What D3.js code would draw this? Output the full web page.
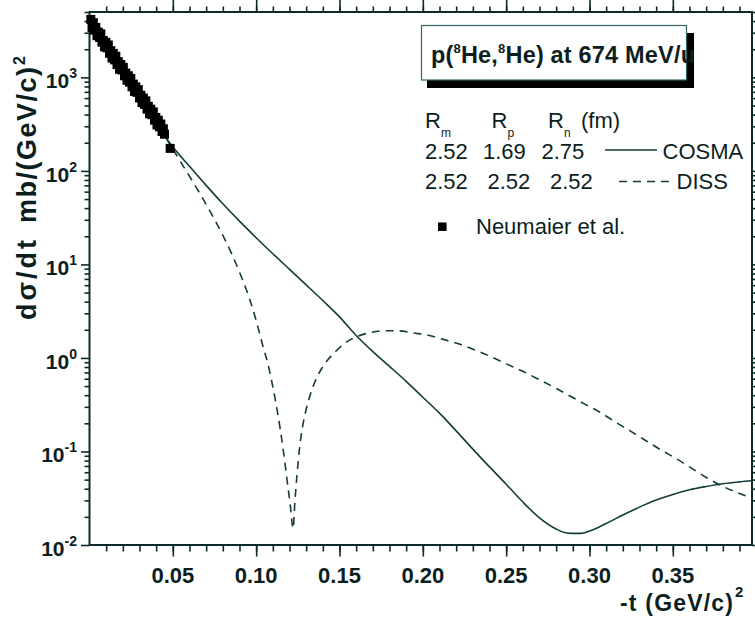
<!DOCTYPE html>
<html>
<head>
<meta charset="utf-8">
<script src="https://cdn.jsdelivr.net/npm/d3@7"></script>
<style>
  html, body { margin: 0; padding: 0; background: #ffffff; }
  svg { display: block; font-family: "Liberation Sans", Arial, Helvetica, sans-serif; }
</style>
</head>
<body>
<svg id="chart" width="755" height="625"></svg>
<script>
// p(8He,8He) elastic scattering at 674 MeV/u: dσ/dt versus -t

// COSMA calculation (solid line)
const cosmaT = [0, 0.01, 0.02, 0.03, 0.04, 0.0484, 0.06, 0.07, 0.08, 0.09,
  0.10, 0.11, 0.12, 0.13, 0.14, 0.15, 0.16, 0.17, 0.18, 0.19,
  0.20, 0.21, 0.22, 0.23, 0.24, 0.25, 0.26, 0.27, 0.28, 0.285,
  0.29, 0.295, 0.30, 0.31, 0.32, 0.33, 0.34, 0.35, 0.36, 0.37,
  0.38, 0.39, 0.3975];
const cosmaSigma = [4070, 2040, 1120, 617, 331, 196, 112, 70.0, 44.5, 29.0,
  19.3, 13.0, 8.87, 6.05, 4.11, 2.75, 1.74, 1.17, 0.813, 0.562,
  0.380, 0.257, 0.166, 0.106, 0.0684, 0.0447, 0.0288, 0.0195, 0.0148, 0.0136,
  0.0133, 0.0133, 0.0141, 0.0170, 0.0209, 0.0254, 0.0302, 0.0347, 0.0389, 0.0422,
  0.0452, 0.0473, 0.0486];

// DISS calculation (dashed line)
const dissT = [0, 0.01, 0.02, 0.03, 0.04, 0.0484, 0.0554, 0.0623, 0.0683, 0.0743,
  0.0803, 0.0854, 0.0904, 0.0953, 0.1000, 0.1040, 0.1070, 0.1100, 0.1130, 0.1160,
  0.1185, 0.1205, 0.1222, 0.1232, 0.1245, 0.1260, 0.1280, 0.1300, 0.1325, 0.1355,
  0.1394, 0.1430, 0.1474, 0.1520, 0.1574, 0.1664, 0.1763, 0.1853, 0.1943, 0.2033,
  0.2123, 0.2224, 0.2314, 0.2404, 0.2494, 0.2594, 0.2684, 0.2774, 0.2873, 0.2963,
  0.3064, 0.3154, 0.3244, 0.3334, 0.3424, 0.3524, 0.3614, 0.3704, 0.3803, 0.3904,
  0.3975];
const dissSigma = [4070, 2040, 1120, 617, 331, 190, 119, 75.0, 49.5, 32.0,
  20.0, 12.9, 7.94, 4.68, 2.51, 1.35, 0.871, 0.490, 0.251, 0.112,
  0.0501, 0.0263, 0.0150, 0.0282, 0.0562, 0.107, 0.191, 0.282, 0.407, 0.569,
  0.776, 0.955, 1.16, 1.38, 1.60, 1.83, 1.95, 1.95, 1.85, 1.75,
  1.58, 1.40, 1.21, 1.04, 0.873, 0.728, 0.604, 0.500, 0.401, 0.327,
  0.262, 0.207, 0.166, 0.132, 0.105, 0.0830, 0.0659, 0.0524, 0.0420, 0.0353,
  0.0318];

// Neumaier et al. measurement
const neumaierT = [0.0008, 0.0015, 0.0023, 0.0030, 0.0038, 0.0045, 0.0053, 0.0060, 0.0068, 0.0075,
  0.0083, 0.0090, 0.0098, 0.0105, 0.0113, 0.0120, 0.0128, 0.0135, 0.0143, 0.0150,
  0.0158, 0.0165, 0.0173, 0.0180, 0.0188, 0.0195, 0.0203, 0.0210, 0.0218, 0.0225,
  0.0233, 0.0240, 0.0248, 0.0255, 0.0263, 0.0270, 0.0278, 0.0285, 0.0293, 0.0300,
  0.0308, 0.0315, 0.0323, 0.0330, 0.0338, 0.0345, 0.0353, 0.0360, 0.0368, 0.0375,
  0.0383, 0.0390, 0.0398, 0.0405, 0.0413, 0.0420, 0.0428, 0.0435, 0.0443, 0.0450,
  0.0484];
const neumaierSigma = [4170, 3430, 3840, 3200, 3420, 2790, 3050, 2670, 2920, 2380,
  2480, 2120, 2370, 2070, 2220, 1810, 1930, 1610, 1800, 1540,
  1680, 1370, 1470, 1220, 1370, 1200, 1280, 1040, 1110, 931,
  1040, 889, 973, 793, 847, 708, 791, 692, 740, 603,
  644, 537, 601, 514, 561, 458, 490, 408, 457, 399,
  427, 348, 372, 310, 348, 296, 317, 264, 282, 247,
  174];

// axis ticks
const xMajorTicks = [0.05, 0.10, 0.15, 0.20, 0.25, 0.30, 0.35];
const xTickLabels = ["0.05", "0.10", "0.15", "0.20", "0.25", "0.30", "0.35"];
const xMinorTicks = d3.range(1, 40).map(i => i / 100);
const yDecadeExponents = [-2, -1, 0, 1, 2, 3];
const yTickLabels = ["-2", "-1", "0", "1", "2", "3"];

// legend content
const radiusHeaders = ["m", "p", "n"];
const cosmaRadii = ["2.52", "1.69", "2.75"];
const dissRadii = ["2.52", "2.52", "2.52"];

const ink = "#0c1e1e";
const axisInk = "#0d2a2a";
const curveInk = "#143c3a";

const svg = d3.select("#chart");
const plotLeft = 89.5, plotRight = 752, plotTop = 12, plotBottom = 545;

const x = d3.scaleLinear().domain([0, 0.3975]).range([plotLeft, plotRight]);
const y = d3.scaleLog().domain([0.01, 5000]).range([plotBottom, plotTop]);

const yMajor = yDecadeExponents.map(e => Math.pow(10, e));
const yMinor = [];
yDecadeExponents.forEach(e => {
  for (let k = 2; k <= 9; k++) {
    const v = k * Math.pow(10, e);
    if (v <= 5000) yMinor.push(v);
  }
});

svg.append("rect").attr("width", 755).attr("height", 625).attr("fill", "#ffffff");

// ticks
function styleAxis(g) {
  g.select(".domain").remove();
  g.selectAll(".tick line").attr("stroke", axisInk).attr("stroke-width", 1.6);
  g.selectAll("text").remove();
}
svg.append("g").attr("transform", `translate(0,${plotBottom})`)
  .call(d3.axisBottom(x).tickValues(xMinorTicks).tickSize(6.5).tickFormat(""))
  .call(styleAxis);
svg.append("g").attr("transform", `translate(0,${plotBottom})`)
  .call(d3.axisBottom(x).tickValues(xMajorTicks).tickSize(11.5).tickFormat(""))
  .call(styleAxis);
svg.append("g").attr("transform", `translate(0,${plotTop})`)
  .call(d3.axisTop(x).tickValues(xMinorTicks).tickSize(5.5).tickFormat(""))
  .call(styleAxis);
svg.append("g").attr("transform", `translate(0,${plotTop})`)
  .call(d3.axisTop(x).tickValues(xMajorTicks).tickSize(12).tickFormat(""))
  .call(styleAxis);
svg.append("g").attr("transform", `translate(${plotLeft},0)`)
  .call(d3.axisLeft(y).tickValues(yMinor).tickSize(5).tickFormat(""))
  .call(styleAxis);
svg.append("g").attr("transform", `translate(${plotLeft},0)`)
  .call(d3.axisLeft(y).tickValues(yMajor).tickSize(8.5).tickFormat(""))
  .call(styleAxis);
svg.append("g").attr("transform", `translate(${plotRight},0)`)
  .call(d3.axisRight(y).tickValues(yMinor).tickSize(5).tickFormat(""))
  .call(styleAxis);
svg.append("g").attr("transform", `translate(${plotRight},0)`)
  .call(d3.axisRight(y).tickValues(yMajor).tickSize(8.5).tickFormat(""))
  .call(styleAxis);

// frame
svg.append("rect")
  .attr("x", plotLeft).attr("y", plotTop)
  .attr("width", plotRight - plotLeft).attr("height", plotBottom - plotTop)
  .attr("fill", "none").attr("stroke", axisInk).attr("stroke-width", 2);

// x tick labels
svg.append("g").selectAll("text")
  .data(xMajorTicks)
  .join("text")
  .attr("x", d => x(d))
  .attr("y", 583)
  .attr("text-anchor", "middle")
  .attr("font-size", 22).attr("font-weight", "bold").attr("fill", ink)
  .text((d, i) => xTickLabels[i]);

// y tick labels 10^n
const yl = svg.append("g").selectAll("text")
  .data(yMajor)
  .join("text")
  .attr("x", 77)
  .attr("y", d => y(d) + 11)
  .attr("text-anchor", "end")
  .attr("font-weight", "bold").attr("fill", ink);
yl.append("tspan").attr("font-size", 21).text("10");
yl.append("tspan").attr("font-size", 14).attr("dy", -10).text((d, i) => yTickLabels[i]);

// axis titles
svg.append("text")
  .attr("x", 620).attr("y", 611)
  .attr("font-size", 23).attr("font-weight", "bold").attr("fill", ink)
  .attr("textLength", 113).attr("lengthAdjust", "spacing")
  .text("-t (GeV/c)");
svg.append("text")
  .attr("x", 735).attr("y", 597)
  .attr("font-size", 15).attr("font-weight", "bold").attr("fill", ink)
  .text("2");

const yTitle = svg.append("g").attr("transform", "translate(36,0) rotate(-90)");
yTitle.append("text")
  .attr("x", -320).attr("y", 0)
  .attr("font-size", 27).attr("font-weight", "bold").attr("fill", ink)
  .attr("textLength", 80).attr("lengthAdjust", "spacing")
  .text("dσ/dt");
yTitle.append("text")
  .attr("x", -223).attr("y", 0)
  .attr("font-size", 27).attr("font-weight", "bold").attr("fill", ink)
  .attr("textLength", 156).attr("lengthAdjust", "spacing")
  .text("mb/(GeV/c)");
yTitle.append("text")
  .attr("x", -65).attr("y", -11)
  .attr("font-size", 16).attr("font-weight", "bold").attr("fill", ink)
  .text("2");

// curves
svg.append("clipPath").attr("id", "plotClip")
  .append("rect").attr("x", plotLeft).attr("y", plotTop)
  .attr("width", plotRight - plotLeft).attr("height", plotBottom - plotTop);

const line = d3.line()
  .x(d => x(d[0]))
  .y(d => y(d[1]))
  .curve(d3.curveMonotoneX);

const plot = svg.append("g").attr("clip-path", "url(#plotClip)");
plot.append("path")
  .attr("d", line(cosmaT.map((t, i) => [t, cosmaSigma[i]])))
  .attr("fill", "none").attr("stroke", curveInk).attr("stroke-width", 1.6);
plot.append("path")
  .attr("d", line(dissT.map((t, i) => [t, dissSigma[i]])))
  .attr("fill", "none").attr("stroke", curveInk).attr("stroke-width", 1.6)
  .attr("stroke-dasharray", "8,6");

// measured points
const sq = 9;
svg.append("g").selectAll("rect")
  .data(neumaierT.map((t, i) => [t, neumaierSigma[i]]))
  .join("rect")
  .attr("x", d => x(d[0]) - sq / 2)
  .attr("y", d => y(d[1]) - sq / 2)
  .attr("width", sq).attr("height", sq)
  .attr("fill", "#000000");

// title box with drop shadow
svg.append("rect").attr("x", 427).attr("y", 33).attr("width", 267).attr("height", 55)
  .attr("fill", "#000000");
svg.append("rect").attr("x", 421.5).attr("y", 25.5).attr("width", 265).attr("height", 54.5)
  .attr("fill", "#ffffff").attr("stroke", "#356565").attr("stroke-width", 1.2);
const title = svg.append("text")
  .attr("x", 431).attr("y", 63)
  .attr("font-size", 23.5).attr("font-weight", "bold").attr("fill", ink)
  .attr("textLength", 264).attr("lengthAdjust", "spacing");
title.append("tspan").text("p(");
title.append("tspan").attr("font-size", 13).attr("dy", -10).text("8");
title.append("tspan").attr("dy", 10).text("He,");
title.append("tspan").attr("font-size", 13).attr("dy", -10).text("8");
title.append("tspan").attr("dy", 10).text("He) at 674 MeV/u");

// radii legend
const headerX = [425, 491.5, 548];
const headers = svg.append("g").selectAll("text")
  .data(radiusHeaders)
  .join("text")
  .attr("x", (d, i) => headerX[i]).attr("y", 128)
  .attr("font-size", 22).attr("fill", ink);
headers.append("tspan").text("R");
headers.append("tspan").attr("font-size", 12).attr("dy", 9).text(d => d);
svg.append("text").attr("x", 581).attr("y", 128)
  .attr("font-size", 22).attr("fill", ink).text("(fm)");

const cosmaX = [425, 483, 541.5];
const dissX = [425, 487.5, 550];
svg.append("g").selectAll("text")
  .data(cosmaRadii).join("text")
  .attr("x", (d, i) => cosmaX[i]).attr("y", 158.5)
  .attr("font-size", 22).attr("fill", ink).text(d => d);
svg.append("g").selectAll("text")
  .data(dissRadii).join("text")
  .attr("x", (d, i) => dissX[i]).attr("y", 188.5)
  .attr("font-size", 22).attr("fill", ink).text(d => d);

svg.append("line").attr("x1", 605).attr("x2", 657).attr("y1", 150).attr("y2", 150)
  .attr("stroke", curveInk).attr("stroke-width", 1.6);
svg.append("text").attr("x", 662.5).attr("y", 158.5)
  .attr("font-size", 22).attr("fill", ink).text("COSMA");

svg.append("line").attr("x1", 619).attr("x2", 672).attr("y1", 181.5).attr("y2", 181.5)
  .attr("stroke", curveInk).attr("stroke-width", 1.6).attr("stroke-dasharray", "8,6");
svg.append("text").attr("x", 676.5).attr("y", 188.5)
  .attr("font-size", 22).attr("fill", ink).text("DISS");

svg.append("rect").attr("x", 442.3 - 4.25).attr("y", 226.7 - 4.25)
  .attr("width", 8.5).attr("height", 8.5).attr("fill", "#000000");
svg.append("text").attr("x", 476).attr("y", 234)
  .attr("font-size", 22).attr("fill", ink).text("Neumaier et al.");
</script>
</body>
</html>
